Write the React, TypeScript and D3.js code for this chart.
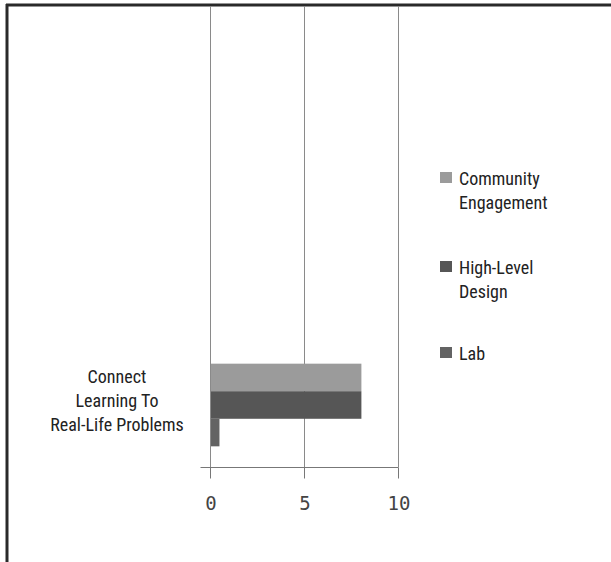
import React, { useEffect, useRef } from 'react';
import * as d3 from 'd3';

const categories = ['Connect Learning To Real-Life Problems'];
const categoryLines = ['Connect', 'Learning To', 'Real-Life Problems'];
const seriesNames = ['Community Engagement', 'High-Level Design', 'Lab'];
const legendLines = [['Community', 'Engagement'], ['High-Level', 'Design'], ['Lab']];
const seriesValues = [8, 8, 0.45];
const seriesColors = ['#9b9b9b', '#565656', '#636363'];
const xTicks = [0, 5, 10];

const W = 611;
const H = 562;
const narrow = "'Liberation Sans Narrow', 'Arial Narrow', 'Roboto Condensed', 'Liberation Sans', sans-serif";

export default function App() {
  const ref = useRef<SVGSVGElement>(null);

  useEffect(() => {
    document.body.style.margin = '0';
    if (!ref.current) return;
    const svg = d3.select(ref.current);
    svg.selectAll('*').remove();

    svg.append('rect').attr('width', W).attr('height', H).attr('fill', '#fff');

    // frame: top and left edges only
    svg.append('line').attr('x1', 6).attr('x2', W).attr('y1', 5).attr('y2', 5)
      .attr('stroke', '#2a2a2a').attr('stroke-width', 3);
    svg.append('line').attr('x1', 7).attr('x2', 7).attr('y1', 4).attr('y2', H)
      .attr('stroke', '#2a2a2a').attr('stroke-width', 3);

    const plotTop = 6;
    const axisY = 467;

    const x = d3.scaleLinear().domain([0, 10]).range([210, 398]);
    const y0 = d3.scaleBand().domain(categories).range([343, axisY]).paddingInner(0.2).paddingOuter(0.2);
    const y1 = d3.scaleBand().domain(seriesNames).range([0, y0.bandwidth()]);

    // gridlines
    svg.append('g').selectAll('line').data(xTicks).enter().append('line')
      .attr('x1', d => x(d) + 0.5).attr('x2', d => x(d) + 0.5)
      .attr('y1', plotTop).attr('y2', axisY)
      .attr('stroke', '#8a8a8a').attr('stroke-width', 1);

    // bars
    const g = svg.append('g');
    categories.forEach(cat => {
      g.selectAll('rect.bar').data(seriesNames).enter().append('rect')
        .attr('class', 'bar')
        .attr('x', x(0) + 1)
        .attr('y', d => (y0(cat) || 0) + (y1(d) || 0))
        .attr('width', (d, i) => x(seriesValues[i]) - x(0))
        .attr('height', y1.bandwidth())
        .attr('fill', (d, i) => seriesColors[i]);
    });

    // x axis
    const axis = svg.append('g').attr('transform', `translate(0.5, ${axisY + 0.5})`);
    axis.append('line').attr('x1', 200).attr('x2', x(10)).attr('y1', 0).attr('y2', 0)
      .attr('stroke', '#777');
    axis.selectAll('line.tick').data(xTicks).enter().append('line')
      .attr('class', 'tick')
      .attr('x1', d => x(d)).attr('x2', d => x(d)).attr('y1', 0).attr('y2', 11)
      .attr('stroke', '#777');
    svg.append('g').selectAll('text').data(xTicks).enter().append('text')
      .attr('x', d => x(d) + 1)
      .attr('y', 510)
      .attr('text-anchor', 'middle')
      .attr('font-family', "'DejaVu Sans Mono', monospace")
      .attr('font-size', 19)
      .attr('fill', '#444')
      .text(d => String(d));

    // category label
    const cy = (y0(categories[0]) || 0) + y0.bandwidth() / 2;
    const catText = svg.append('text')
      .attr('font-family', narrow)
      .attr('font-size', 18)
      .attr('fill', '#222')
      .attr('text-anchor', 'middle');
    categoryLines.forEach((line, i) => {
      catText.append('tspan').attr('x', 117)
        .attr('y', cy - 24 + i * 24 + 2)
        .text(line);
    });

    // legend
    const legendY = [178, 267, 353];
    const leg = svg.append('g');
    seriesNames.forEach((name, i) => {
      leg.append('rect').attr('x', 440).attr('y', legendY[i] - 6).attr('width', 12).attr('height', 11)
        .attr('fill', seriesColors[i]);
      const t = leg.append('text')
        .attr('font-family', narrow)
        .attr('font-size', 18)
        .attr('fill', '#222');
      legendLines[i].forEach((line, j) => {
        t.append('tspan').attr('x', 459).attr('y', legendY[i] + 7 + j * 24).text(line);
      });
    });
  }, []);

  return <svg ref={ref} width={W} height={H} style={{ display: 'block' }} />;
}
